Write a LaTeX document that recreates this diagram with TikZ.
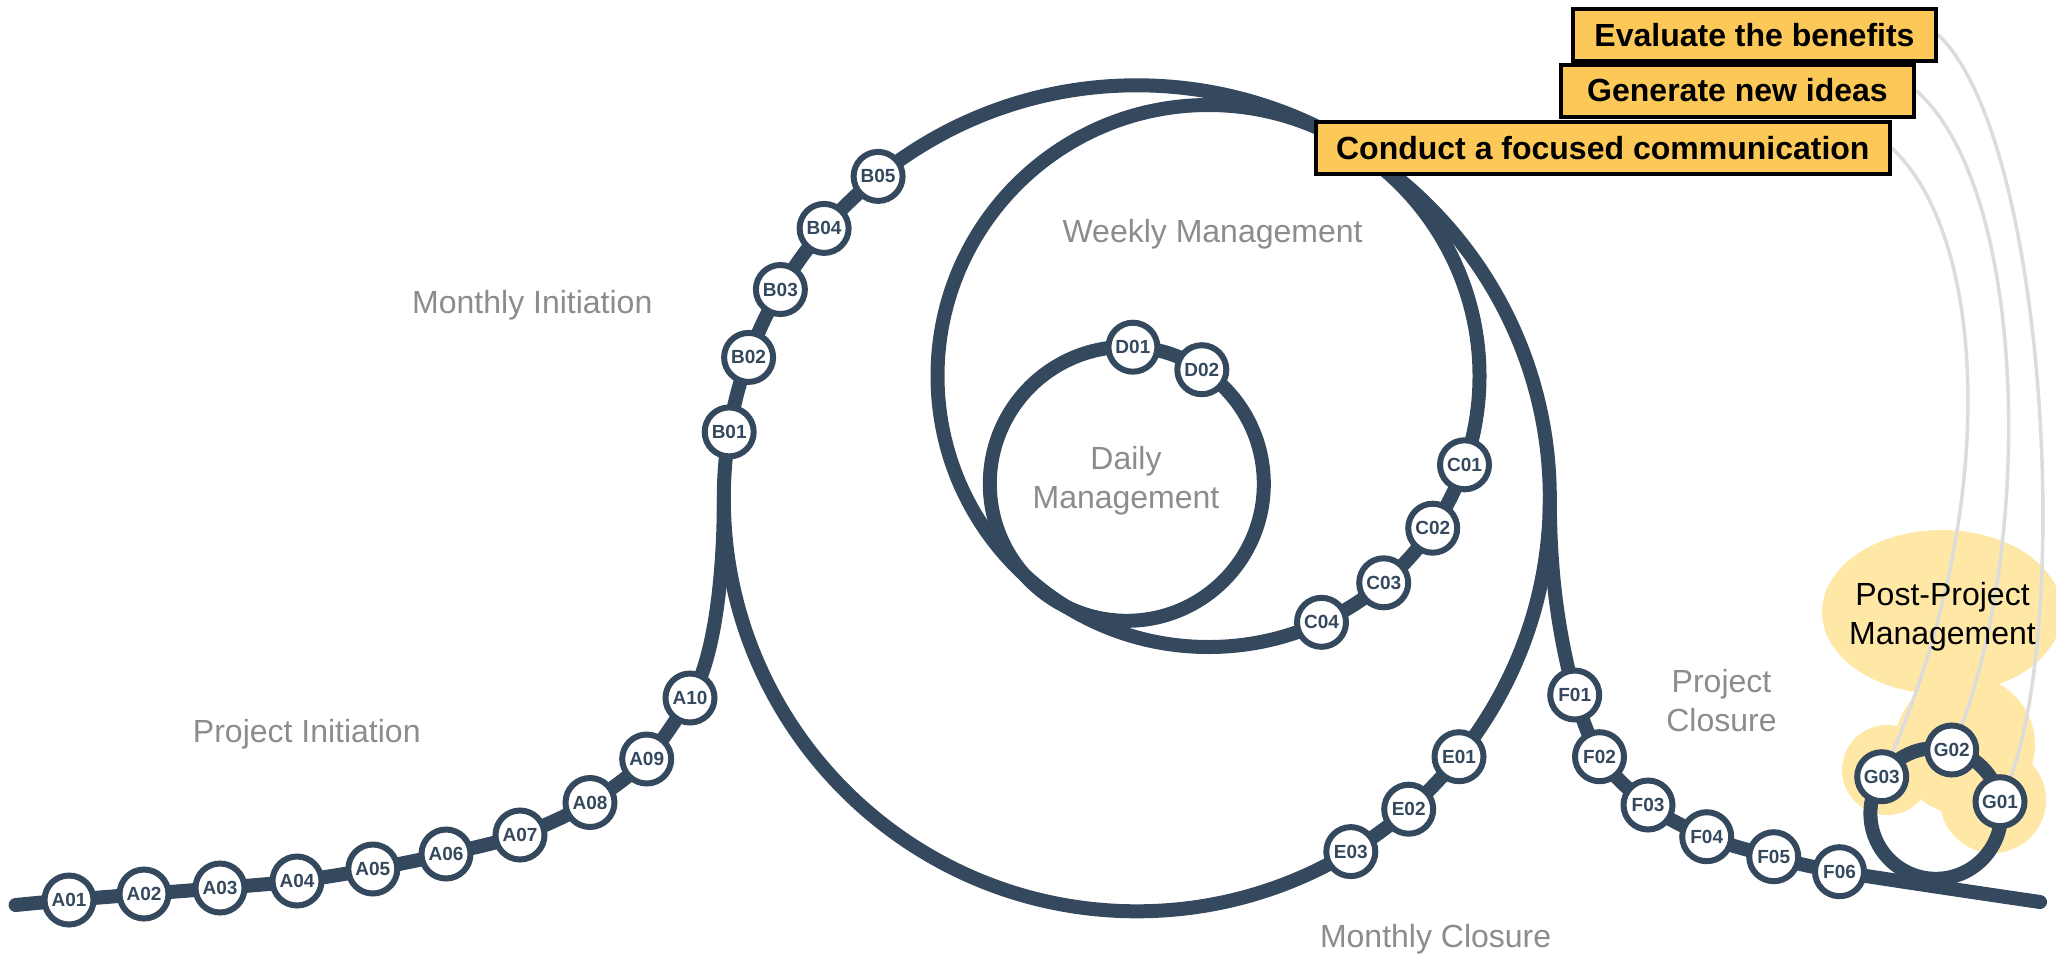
\documentclass[tikz,border=0pt]{standalone}
\usepackage{fontspec}
\setmainfont{Liberation Sans}
\definecolor{navy}{HTML}{34495E}
\definecolor{lblgray}{HTML}{8C8C8C}
\definecolor{linegray}{HTML}{DCDCDC}
\definecolor{boxfill}{HTML}{FCC858}
\definecolor{blobfill}{HTML}{FFE8A6}
\pgfdeclarelayer{blob}
\pgfdeclarelayer{bg}
\pgfsetlayers{blob,bg,main}
\begin{document}
\begin{tikzpicture}[x=1pt,y=-1pt,
  track/.style={draw=navy,line width=14pt,line cap=round},
  ring/.style={draw=navy,line width=14pt},
  stn/.style={circle,draw=navy,fill=white,line width=6pt,minimum size=49pt,inner sep=0pt,text=navy,font=\fontsize{19}{19}\selectfont\bfseries},
  phase/.style={text=lblgray,font=\fontsize{32}{39}\selectfont,align=center},
  task/.style={draw=black,line width=4pt,fill=boxfill,minimum height=52pt,inner sep=0pt,text=black,font=\fontsize{32}{32}\selectfont\bfseries},
  link/.style={draw=linegray,line width=3.5pt}
]
\useasboundingbox (0,0) rectangle (2056,959);
% loop centres and junctions
\coordinate (M) at (1136.8,498.3);
\coordinate (W) at (1208.5,376);
\coordinate (D) at (1126.8,483.8);
\coordinate (G) at (1935.8,813.4);
\coordinate (mleft) at (723.8,498.3);
\coordinate (mright) at (1549.8,498.3);
\coordinate (lstart) at (15.6,905);
\coordinate (lend) at (2040,902);

% stations
\node[stn] (A01) at (69,900) {A01};
\node[stn] (A02) at (144,894) {A02};
\node[stn] (A03) at (220,888) {A03};
\node[stn] (A04) at (297,881) {A04};
\node[stn] (A05) at (372.8,869) {A05};
\node[stn] (A06) at (446,854) {A06};
\node[stn] (A07) at (520,835) {A07};
\node[stn] (A08) at (590,802.5) {A08};
\node[stn] (A09) at (646.7,759) {A09};
\node[stn] (A10) at (690,698) {A10};
\node[stn] (B01) at (729.2,431.9) {B01};
\node[stn] (B02) at (748.6,357.4) {B02};
\node[stn] (B03) at (780.4,289.5) {B03};
\node[stn] (B04) at (824.1,228.4) {B04};
\node[stn] (B05) at (878.1,176.4) {B05};
\node[stn] (C01) at (1464.5,464.8) {C01};
\node[stn] (C02) at (1432.7,528.2) {C02};
\node[stn] (C03) at (1383.7,582.8) {C03};
\node[stn] (C04) at (1321.5,622.3) {C04};
\node[stn] (D01) at (1132.9,347.2) {D01};
\node[stn] (D02) at (1201.8,369.7) {D02};
\node[stn] (E01) at (1459,756.7) {E01};
\node[stn] (E02) at (1408.7,809.2) {E02};
\node[stn] (E03) at (1350.8,851.6) {E03};
\node[stn] (F01) at (1574.7,695) {F01};
\node[stn] (F02) at (1599.5,756.7) {F02};
\node[stn] (F03) at (1648,805) {F03};
\node[stn] (F04) at (1706.7,836.7) {F04};
\node[stn] (F05) at (1773.7,856.7) {F05};
\node[stn] (F06) at (1839.5,871.7) {F06};
\node[stn] (G01) at (2000,801.7) {G01};
\node[stn] (G02) at (1951.7,750) {G02};
\node[stn] (G03) at (1881.7,776.7) {G03};

% phase labels
\node[phase] (lMI) at (532.3,305.5) {Monthly Initiation};
\node[phase] (lPI) at (306.8,734.3) {Project Initiation};
\node[phase] (lWM) at (1212.6,234) {Weekly Management};
\node[phase] (lDM) at (1126,481) {Daily\\Management};
\node[phase] (lPC) at (1721.5,701) {Project\\Closure};
\node[phase] (lMC) at (1435.6,938.8) {Monthly Closure};
\node[phase,text=black] (lPP) at (1942.5,617) {Post-Project\\Management};

% task boxes
\node[task,minimum width=363pt] (t1) at (1754.5,34.7) {Evaluate the benefits};
\node[task,minimum width=353pt] (t2) at (1737.5,90.5) {Generate new ideas};
\node[task,minimum width=574pt] (t3) at (1602.8,148) {Conduct a focused communication};

\begin{pgfonlayer}{blob}
\fill[blobfill] (1942,612) ellipse[x radius=120pt,y radius=82pt];
\fill[blobfill] (1887,770) circle[radius=45pt];
\fill[blobfill] (1965,745) circle[radius=70pt];
\fill[blobfill] (1993,800) circle[radius=53pt];
\end{pgfonlayer}

\begin{pgfonlayer}{bg}
\draw[link] (t1.east) .. controls (2050,140) and (2075,660) .. (G01.center);
\draw[link] (t2.east) .. controls (2030,190) and (2035,560) .. (G02.center);
\draw[link] (t3.east) .. controls (1990,240) and (2000,520) .. (G03.center);
\draw[ring] (M) circle[radius=413pt];
\draw[ring] (W) circle[radius=271pt];
\draw[ring] (D) circle[radius=137pt];
\draw[ring] (G) circle[radius=65.4pt];
\draw[track] plot[smooth,tension=0.55] coordinates {(lstart) (A01.center) (A02.center) (A03.center) (A04.center) (A05.center) (A06.center) (A07.center) (A08.center) (A09.center) (A10.center)};
\draw[track] (A10.center) .. controls (713,665) and (724,580) .. (mleft);
\draw[track] (mright) .. controls (1549.8,580) and (1560,640) .. (F01.center);
\draw[track] plot[smooth,tension=0.55] coordinates {(F01.center) (F02.center) (F03.center) (F04.center) (F05.center) (F06.center) (lend)};
\end{pgfonlayer}
\end{tikzpicture}
\end{document}
